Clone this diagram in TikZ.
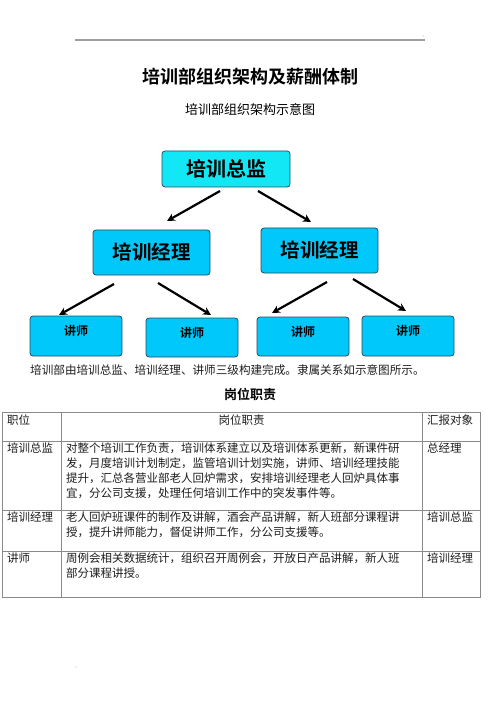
\documentclass[tikz,border=0pt]{standalone}
\usepackage{fontspec}
\newfontfamily\cjk{Noto Sans CJK SC}
\newfontfamily\cjkb{Noto Sans CJK SC Bold}
\usetikzlibrary{arrows.meta}
\definecolor{topfill}{HTML}{12E8F5}
\definecolor{boxfill}{HTML}{00C8FA}
\definecolor{boxline}{HTML}{2E4A5C}
\definecolor{tline}{HTML}{8A8A8A}
\definecolor{ttext}{HTML}{1E1E1E}
\tikzset{
  orgbox/.style={draw=boxline, line width=0.8pt, fill=boxfill, rounded corners=3pt, inner sep=0pt},
  topbox/.style={orgbox, fill=topfill},
  conn/.style={-{Stealth[length=8pt,width=8pt]}, line width=2.2pt, black},
  tcell/.style={anchor=north west, inner sep=0pt, font=\cjk\fontsize{11.5}{15}\selectfont, text=ttext, align=left},
}
\begin{document}
\begin{tikzpicture}[x=1pt,y=-1pt]
\useasboundingbox (0,0) rectangle (500,708);
\fill[white] (0,0) rectangle (500,708);
% header line
\draw[gray!75, line width=1.3pt] (75,40) -- (425,40);
\fill[gray] (423,36) circle (0.5);
% titles
\node[font=\cjkb\fontsize{18}{20}\selectfont] (title) at (250,77) {培训部组织架构及薪酬体制};
\node[font=\cjk\fontsize{13}{15}\selectfont] (sub) at (250,110) {培训部组织架构示意图};
% org chart
\node[topbox, minimum width=128, minimum height=36, font=\cjkb\fontsize{20}{22}\selectfont] (zj) at (226,169) {培训总监};
\node[orgbox, minimum width=117, minimum height=45, font=\cjkb\fontsize{19.5}{22}\selectfont] (jl1) at (151.5,252.5) {培训经理};
\node[orgbox, minimum width=117, minimum height=45, font=\cjkb\fontsize{19.5}{22}\selectfont] (jl2) at (319.5,250.5) {培训经理};
\node[orgbox, minimum width=92, minimum height=40] (js1) at (76,336) {};
\node[orgbox, minimum width=92, minimum height=39] (js2) at (192,337.5) {};
\node[orgbox, minimum width=92, minimum height=39] (js3) at (303,336.5) {};
\node[orgbox, minimum width=92, minimum height=40] (js4) at (408,336) {};
\foreach \n/\y in {js1/331,js2/333,js3/332,js4/331}
  \node[font=\cjkb\fontsize{12}{14}\selectfont] (t\n) at (\n.center |- 0,\y) {讲师};
\coordinate (a1s) at (220,191); \coordinate (a1e) at (167,221);
\coordinate (a2s) at (258,191); \coordinate (a2e) at (311,222);
\draw[conn] (a1s) -- (a1e);
\draw[conn] (a2s) -- (a2e);
\coordinate (b1s) at (114,284); \coordinate (b1e) at (59,315);
\coordinate (b2s) at (158,283); \coordinate (b2e) at (211,315);
\coordinate (b3s) at (327,282); \coordinate (b3e) at (272,313);
\coordinate (b4s) at (353,279); \coordinate (b4e) at (406,311);
\draw[conn] (b1s) -- (b1e);
\draw[conn] (b2s) -- (b2e);
\draw[conn] (b3s) -- (b3e);
\draw[conn] (b4s) -- (b4e);
% caption
\node[anchor=west, inner sep=0pt, font=\cjk\fontsize{11.6}{14}\selectfont, text=ttext] (cap) at (30,370) {培训部由培训总监、培训经理、讲师三级构建完成。隶属关系如示意图所示。};
\node[font=\cjkb\fontsize{13}{15}\selectfont] (gw) at (250,395) {岗位职责};
% table
\draw[tline, line width=0.8pt] (2,412) rectangle (480,597);
\draw[tline, line width=0.8pt] (61,412) -- (61,597);
\draw[tline, line width=0.8pt] (422,412) -- (422,597);
\draw[tline, line width=0.8pt] (2,441) -- (480,441);
\draw[tline, line width=0.8pt] (2,510) -- (480,510);
\draw[tline, line width=0.8pt] (2,551) -- (480,551);
\node[tcell] (h1) at (7,415) {职位};
\node[tcell, anchor=north] (h2) at (241.5,415) {岗位职责};
\node[tcell] (h3) at (427,415) {汇报对象};
\node[tcell] (r1a) at (7,443) {培训总监};
\node[tcell] (r1b) at (66,443) {对整个培训工作负责，培训体系建立以及培训体系更新，新课件研\\发，月度培训计划制定，监管培训计划实施，讲师、培训经理技能\\提升，汇总各营业部老人回炉需求，安排培训经理老人回炉具体事\\宜，分公司支援，处理任何培训工作中的突发事件等。};
\node[tcell] (r1c) at (427,443) {总经理};
\node[tcell] (r2a) at (7,512) {培训经理};
\node[tcell] (r2b) at (66,512) {老人回炉班课件的制作及讲解，酒会产品讲解，新人班部分课程讲\\授，提升讲师能力，督促讲师工作，分公司支援等。};
\node[tcell] (r2c) at (427,512) {培训总监};
\node[tcell] (r3a) at (7,553) {讲师};
\node[tcell] (r3b) at (66,553) {周例会相关数据统计，组织召开周例会，开放日产品讲解，新人班\\部分课程讲授。};
\node[tcell] (r3c) at (427,553) {培训经理};
\fill[gray!60] (76,667) circle (0.7);
\end{tikzpicture}
\end{document}
